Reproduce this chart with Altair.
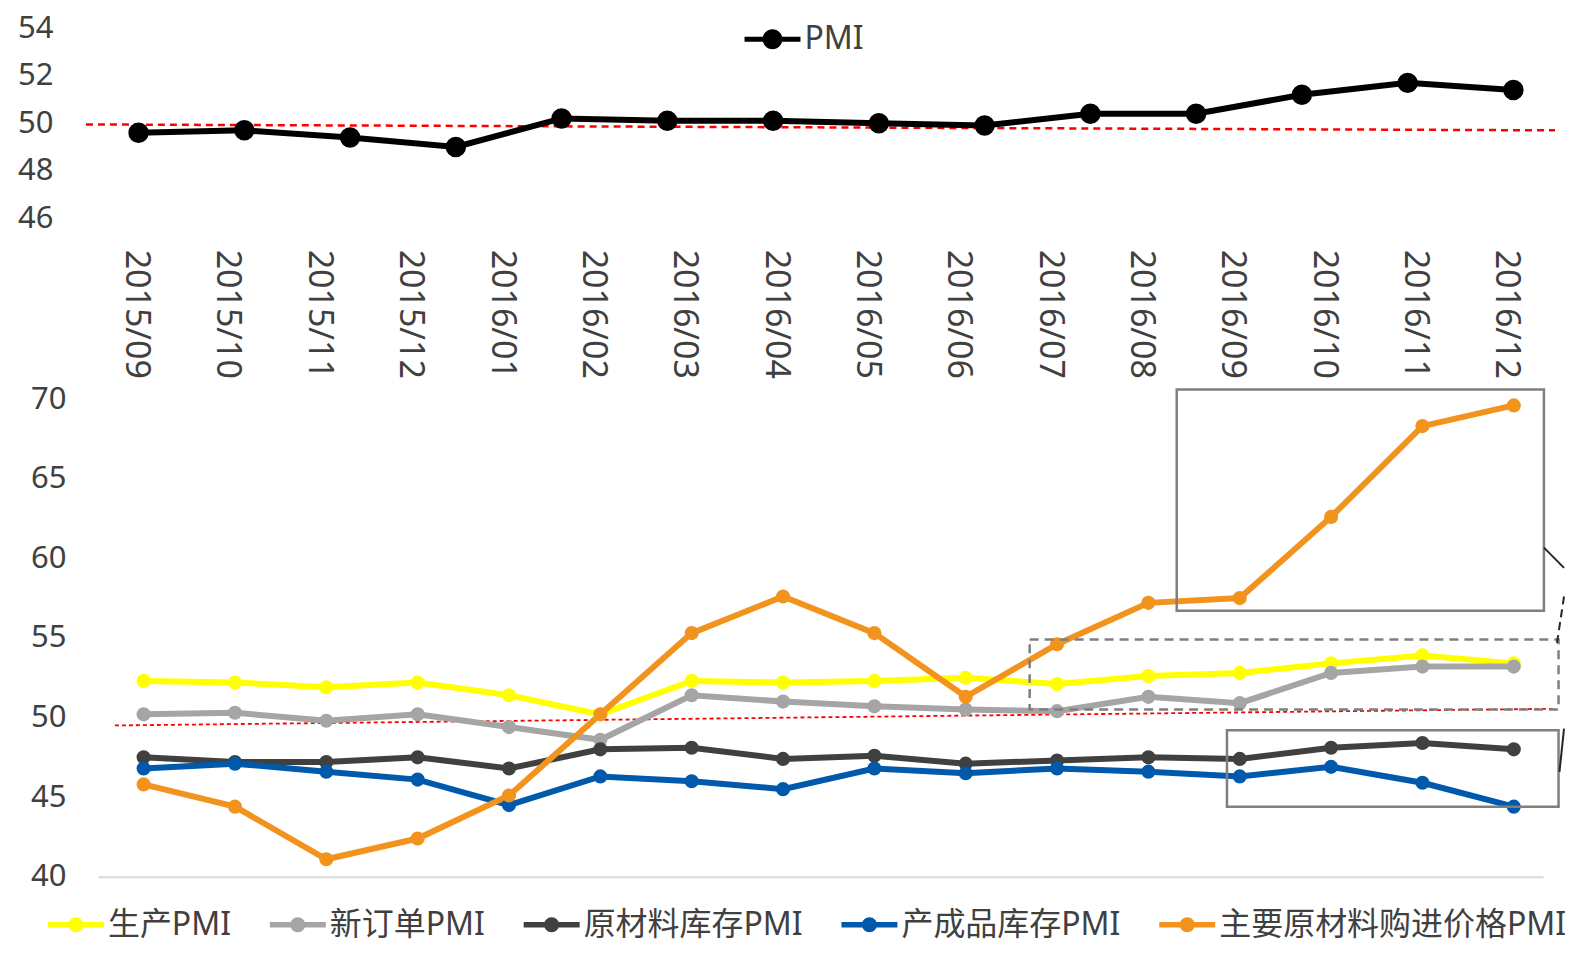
import json
import altair as alt
import pandas as pd

FONT = "Noto Sans, Noto Sans CJK SC, sans-serif"
TEXT = "#404040"

# ---------------- data ----------------
months = ["2015/09", "2015/10", "2015/11", "2015/12", "2016/01", "2016/02",
          "2016/03", "2016/04", "2016/05", "2016/06", "2016/07", "2016/08",
          "2016/09", "2016/10", "2016/11", "2016/12"]

# top panel (14 points drawn across the same span)
pmi_values = [49.6, 49.7, 49.4, 49.0, 50.2, 50.1, 50.1, 50.0, 49.9, 50.4,
              50.4, 51.2, 51.7, 51.4]

series_names = ["生产PMI", "新订单PMI", "原材料库存PMI", "产成品库存PMI",
                "主要原材料购进价格PMI"]
production = [52.3, 52.2, 51.9, 52.2, 51.4, 50.2, 52.3, 52.2, 52.3, 52.5,
              52.1, 52.6, 52.8, 53.4, 53.9, 53.4]
new_orders = [50.2, 50.3, 49.8, 50.2, 49.4, 48.6, 51.4, 51.0, 50.7, 50.5,
              50.4, 51.3, 50.9, 52.8, 53.2, 53.2]
raw_inventory = [47.5, 47.2, 47.2, 47.5, 46.8, 48.0, 48.1, 47.4, 47.6, 47.1,
                 47.3, 47.5, 47.4, 48.1, 48.4, 48.0]
finished_inventory = [46.8, 47.1, 46.6, 46.1, 44.5, 46.3, 46.0, 45.5, 46.8,
                      46.5, 46.8, 46.6, 46.3, 46.9, 45.9, 44.4]
input_price = [45.8, 44.4, 41.1, 42.4, 45.1, 50.2, 55.3, 57.6, 55.3, 51.3,
               54.6, 57.2, 57.5, 62.6, 68.3, 69.6]
series_colors = ["#FFFF00", "#A5A5A5", "#404040", "#0059AB", "#F2931E"]

# hand-drawn 50-line references (value at left end, value at right end)
top_ref = [49.95, 49.7]
bottom_ref = [49.5, 50.55]

# annotation boxes (month index / value space)
solid_box_x = [11.31, 11.86]
solid_box_x2 = [15.33, 15.49]
solid_box_y = [70.6, 49.2]
solid_box_y2 = [56.7, 44.4]
dashed_box_x = [9.70]
dashed_box_x2 = [15.49]
dashed_box_y = [54.9]
dashed_box_y2 = [50.5]

# connector lines
conn_solid_x = [15.33, 15.55]
conn_solid_x2 = [15.55, 15.50]
conn_solid_y = [60.67, 49.3]
conn_solid_y2 = [59.4, 46.58]
conn_dash_x = [15.55]
conn_dash_x2 = [15.47]
conn_dash_y = [57.6]
conn_dash_y2 = [54.57]

# ---------------- layout constants ----------------
W = 1446
H_TOP = 190
H_BOT = 478
MONTH_DOMAIN = [-0.5, 15.32]
PMI_DOMAIN = [-0.384, 13.28]


def sym_path(r, t=0.17, half=1.75):
    return (f"M-{half},-{t}L{half},-{t}L{half},{t}L-{half},{t}Z "
            f"M{r},0A{r},{r},0,1,1,-{r},0A{r},{r},0,1,1,{r},0Z")


# ---------------- top chart ----------------
pmi_df = pd.DataFrame({"j": list(range(len(pmi_values))), "PMI": pmi_values,
                       "series": ["PMI"] * len(pmi_values)})
month_df = pd.DataFrame({"i": list(range(len(months))), "month": months})
top_ref_df = pd.DataFrame({"y": [top_ref[0]], "y2": [top_ref[1]]})

ytop_scale = alt.Scale(domain=[46, 54], nice=False, zero=False)
ytop_axis = alt.Axis(values=[46, 48, 50, 52, 54], title=None, grid=False,
                     domain=False, ticks=False, tickSize=0,
                     labelFont=FONT, labelFontSize=31, labelColor=TEXT,
                     labelPadding=45)
pmi_x = alt.X("j:Q", scale=alt.Scale(domain=PMI_DOMAIN, nice=False, zero=False), axis=None)
pmi_color_scale = alt.Scale(domain=["PMI"], range=["#000000"])

top_rule = alt.Chart(top_ref_df).mark_rule(
    color="#FF0000", strokeWidth=2.5, strokeDash=[7, 5]
).encode(
    x=alt.value(-12), x2=alt.value(1458),
    y=alt.Y("y:Q", scale=ytop_scale, axis=ytop_axis, title=None), y2="y2:Q",
)

pmi_line = alt.Chart(pmi_df).mark_line(strokeWidth=6, color="#000000").encode(
    x=pmi_x,
    y=alt.Y("PMI:Q", scale=ytop_scale, axis=ytop_axis, title=None),
)

pmi_points = alt.Chart(pmi_df).mark_point(filled=True, size=420, opacity=1).encode(
    x=pmi_x,
    y=alt.Y("PMI:Q", scale=ytop_scale, axis=ytop_axis, title=None),
    color=alt.Color("series:N", scale=pmi_color_scale,
                    legend=alt.Legend(title=None, orient="none", legendX=647, legendY=-5,
                                      symbolType=sym_path(0.62, 0.16), symbolSize=1024,
                                      symbolOffset=12, symbolStrokeWidth=0,
                                      symbolOpacity=1, padding=0,
                                      labelFont=FONT, labelFontSize=32,
                                      labelColor=TEXT, labelOffset=16)),
)

month_axis = alt.Chart(month_df).mark_point(opacity=0).encode(
    x=alt.X("i:Q", scale=alt.Scale(domain=MONTH_DOMAIN, nice=False, zero=False),
            axis=alt.Axis(values=list(range(len(months))),
                          labelExpr=f"{json.dumps(months)}[datum.value]",
                          orient="bottom", title=None, grid=False, domain=False,
                          ticks=False, tickSize=0, labelAngle=90, labelAlign="left",
                          labelBaseline="middle", labelFlush=False, labelOverlap=False,
                          labelFont=FONT, labelFontSize=34, labelColor=TEXT,
                          labelPadding=31, labelOffset=-8)),
    y=alt.value(0),
)

top = alt.layer(top_rule, pmi_line, pmi_points, month_axis).resolve_scale(
    x="independent"
).properties(width=W, height=H_TOP)

# ---------------- bottom chart ----------------
rows = []
for name, vals in zip(series_names, [production, new_orders, raw_inventory,
                                     finished_inventory, input_price]):
    for i, v in enumerate(vals):
        rows.append({"i": i, "month": months[i], "series": name, "value": v})
bot_df = pd.DataFrame(rows)

bx_scale = alt.Scale(domain=MONTH_DOMAIN, nice=False, zero=False)
by_scale = alt.Scale(domain=[40, 70], nice=False, zero=False)
bx_axis = alt.Axis(title=None, labels=False, ticks=False, grid=False,
                   domain=True, domainColor="#D9D9D9", domainWidth=2)
by_axis = alt.Axis(values=[40, 45, 50, 55, 60, 65, 70], title=None,
                   grid=False, domain=False, ticks=False, tickSize=0,
                   labelFont=FONT, labelFontSize=31, labelColor=TEXT,
                   labelPadding=32)


def BX(field):
    return alt.X(field, scale=bx_scale, axis=bx_axis, title=None)


def BY(field):
    return alt.Y(field, scale=by_scale, axis=by_axis, title=None)


bot_ref_df = pd.DataFrame({"y": [bottom_ref[0]], "y2": [bottom_ref[1]]})
bot_rule = alt.Chart(bot_ref_df).mark_rule(
    color="#FF0000", strokeWidth=1.8, strokeDash=[4, 3]
).encode(
    x=alt.value(17), x2=alt.value(1458),
    y=BY("y:Q"), y2="y2:Q",
)

bot_lines = alt.Chart(bot_df).mark_line(strokeWidth=6).encode(
    x=BX("i:Q"),
    y=BY("value:Q"),
    stroke=alt.Stroke("series:N", scale=alt.Scale(domain=series_names, range=series_colors),
                      legend=None),
    order=alt.Order("i:Q"),
)

bot_points = alt.Chart(bot_df).mark_point(filled=True, size=200, opacity=1).encode(
    x=BX("i:Q"),
    y=BY("value:Q"),
    color=alt.Color("series:N", scale=alt.Scale(domain=series_names, range=series_colors),
                    legend=alt.Legend(title=None, orient="none", legendX=-50, legendY=510,
                                      direction="horizontal", columns=5,
                                      symbolType=sym_path(0.47), symbolSize=1024,
                                      symbolOffset=12, symbolStrokeWidth=0,
                                      symbolOpacity=1, padding=0,
                                      labelFont=FONT, labelFontSize=32,
                                      labelColor=TEXT, labelOffset=16,
                                      columnPadding=38, labelLimit=1000)),
)

solid_box_df = pd.DataFrame({"bx": solid_box_x, "bx2": solid_box_x2,
                             "by": solid_box_y, "by2": solid_box_y2})
dashed_box_df = pd.DataFrame({"bx": dashed_box_x, "bx2": dashed_box_x2,
                              "by": dashed_box_y, "by2": dashed_box_y2})

solid_boxes = alt.Chart(solid_box_df).mark_rect(
    fillOpacity=0, stroke="#7F7F7F", strokeWidth=2.5
).encode(x=BX("bx:Q"), x2="bx2:Q", y=BY("by:Q"), y2="by2:Q")

dashed_boxes = alt.Chart(dashed_box_df).mark_rect(
    fillOpacity=0, stroke="#7F7F7F", strokeWidth=2.5, strokeDash=[9, 6]
).encode(x=BX("bx:Q"), x2="bx2:Q", y=BY("by:Q"), y2="by2:Q")

conn_solid_df = pd.DataFrame({"cx": conn_solid_x, "cx2": conn_solid_x2,
                              "cy": conn_solid_y, "cy2": conn_solid_y2})
conn_dash_df = pd.DataFrame({"cx": conn_dash_x, "cx2": conn_dash_x2,
                             "cy": conn_dash_y, "cy2": conn_dash_y2})
conn_solid = alt.Chart(conn_solid_df).mark_rule(color="#262626", strokeWidth=2).encode(
    x=BX("cx:Q"), x2="cx2:Q", y=BY("cy:Q"), y2="cy2:Q")
conn_dash = alt.Chart(conn_dash_df).mark_rule(
    color="#262626", strokeWidth=2, strokeDash=[8, 5]
).encode(x=BX("cx:Q"), x2="cx2:Q", y=BY("cy:Q"), y2="cy2:Q")

bottom = alt.layer(
    bot_rule, bot_lines, bot_points, solid_boxes, dashed_boxes, conn_solid, conn_dash
).properties(width=W, height=H_BOT)

chart = alt.vconcat(top, bottom, spacing=4).resolve_scale(
    color="independent"
).properties(
    padding={"left": 9, "top": 4, "right": 0, "bottom": 3},
    background="#FFFFFF",
).configure_view(stroke=None)

chart.save("out.html", embed_options={"renderer": "svg", "actions": False})
